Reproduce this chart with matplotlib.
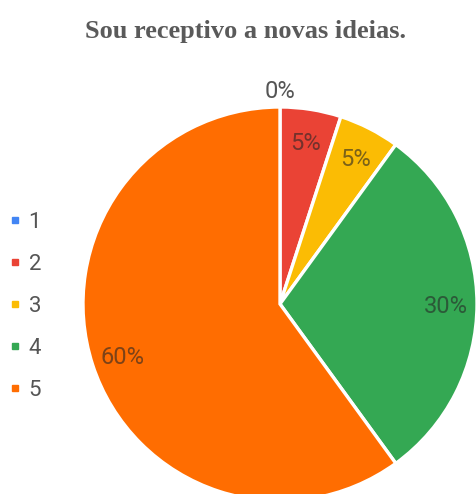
import numpy as np
import matplotlib.pyplot as plt
from matplotlib.lines import Line2D

# ---------------------------------------------------------
# Data
# ---------------------------------------------------------

categories = ["1", "2", "3", "4", "5"]
percents = [0, 5, 5, 30, 60]
colors = ["#4285F4", "#EA4335", "#FBBC04", "#34A853", "#FF6D01"]

title = "Sou receptivo a novas ideias."


def main():

    fig = plt.figure(figsize=(4.76, 4.94), dpi=100)
    fig.patch.set_facecolor("white")

    # pie axes: centre near (280, 304) px, radius ~197 px
    ax = fig.add_axes([83/476, -7/494, 394/476, 394/494])

    wedges, _ = ax.pie(percents, colors=colors, startangle=90, counterclock=False,
                       radius=1.0, wedgeprops=dict(edgecolor="white", linewidth=2.4))

    ax.set_xlim(-1, 1)
    ax.set_ylim(-1, 1)
    ax.set_aspect("equal")
    ax.axis("off")

    # percentage labels placed along each wedge's mid angle
    for w, p in zip(wedges, percents):
        ang = np.deg2rad((w.theta1 + w.theta2) / 2)
        if p == 0:
            r, col = 1.09, "#555555"
        else:
            r, col = 0.84, (0.15, 0.15, 0.15, 0.6)
        ax.text(r*np.cos(ang), r*np.sin(ang), f"{p}%", ha="center",
                va="center_baseline", fontsize=17, color=col, family="Roboto",
                clip_on=False)

    fig.text(0.515, 0.937, title, ha="center", va="center", fontsize=19,
             fontweight="bold", family="Liberation Serif", color="#5a5a5a")

    handles = [Line2D([], [], marker="s", linestyle="none", markersize=5,
                      markerfacecolor=c, markeredgecolor=c) for c in colors]
    leg = fig.legend(handles, categories, loc="center left",
                     bbox_to_anchor=(-0.024, 0.38), frameon=False,
                     handlelength=0.6, handletextpad=0.3, labelspacing=0.95,
                     prop=dict(family="Roboto", size=16))
    for t in leg.get_texts():
        t.set_color("#555555")

    fig.savefig("out.png", dpi=100, facecolor="white")


if __name__ == "__main__":
    main()
